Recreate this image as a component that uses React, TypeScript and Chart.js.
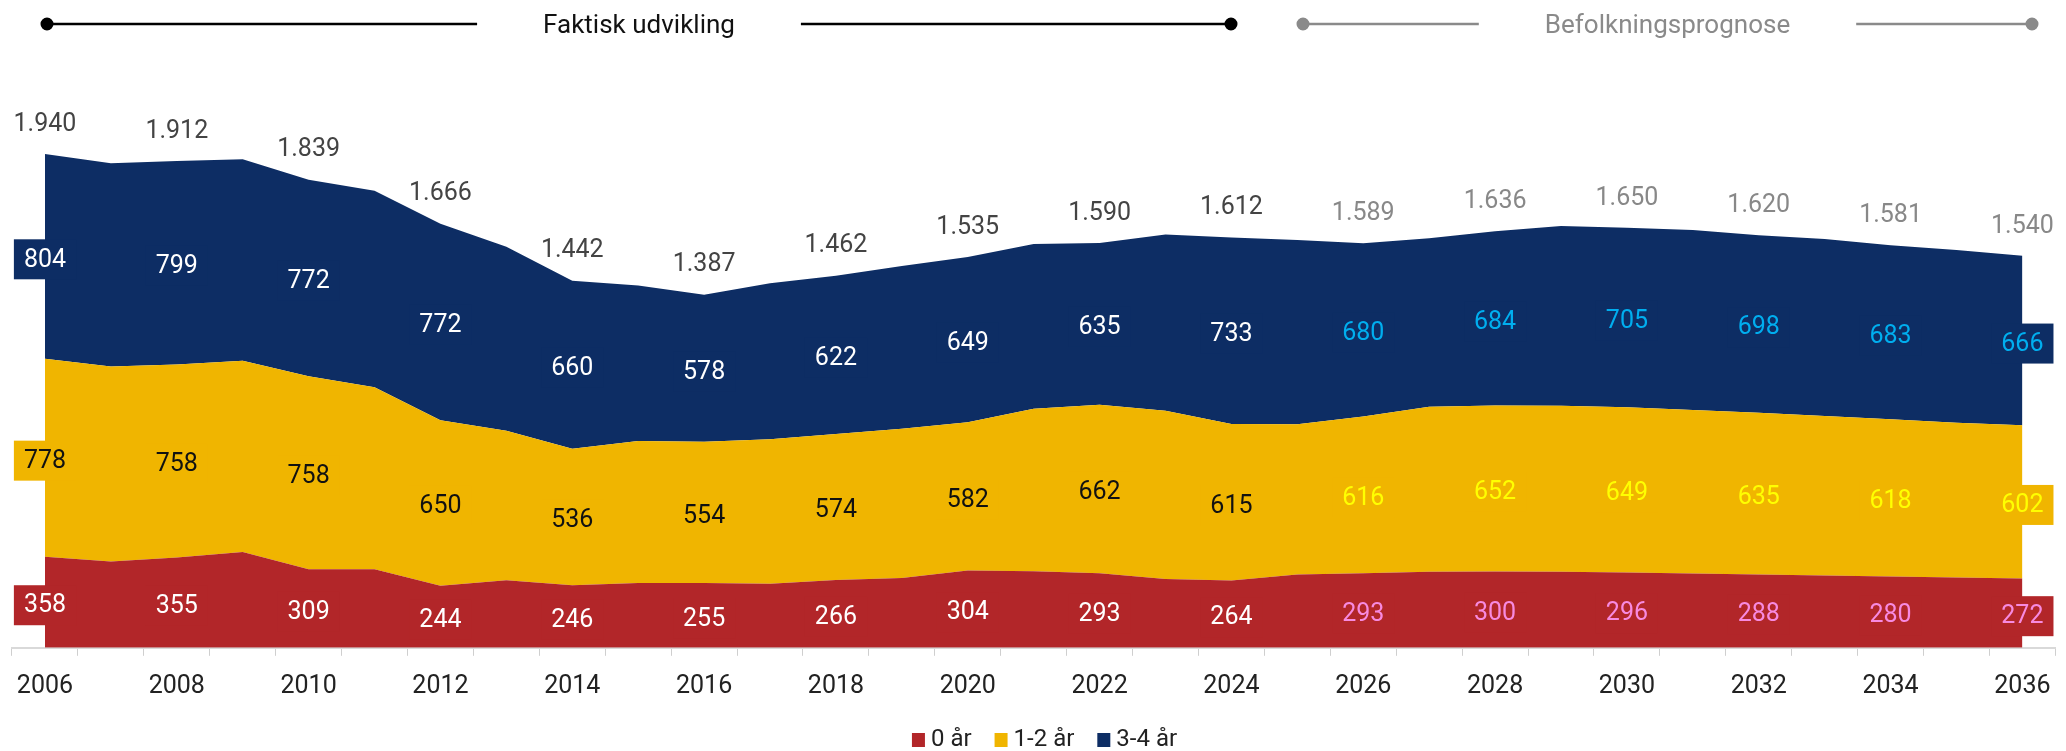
import React, { useEffect, useRef } from 'react';
import { Chart, registerables } from 'chart.js';

Chart.register(...registerables);

const years = [
  '2006', '2007', '2008', '2009', '2010', '2011', '2012', '2013', '2014', '2015', '2016',
  '2017', '2018', '2019', '2020', '2021', '2022', '2023', '2024', '2025', '2026', '2027',
  '2028', '2029', '2030', '2031', '2032', '2033', '2034', '2035', '2036',
];
const age0 = [358, 339, 355, 376, 309, 309, 244, 265, 246, 255, 255, 252, 266, 274, 304, 301, 293, 270, 264, 288, 293, 299, 300, 299, 296, 292, 288, 284, 280, 276, 272];
const age12 = [778, 766, 758, 752, 758, 715, 650, 588, 536, 557, 554, 567, 574, 587, 582, 638, 662, 661, 615, 590, 616, 648, 652, 652, 649, 642, 635, 627, 618, 608, 602];
const age34 = [804, 799, 799, 791, 772, 772, 772, 723, 660, 611, 578, 613, 622, 639, 649, 647, 635, 693, 733, 724, 680, 662, 684, 706, 705, 707, 698, 695, 683, 679, 666];
// Totals as printed above the stack (even years; source totals are from unrounded figures)
const totalLabels = [1940, 1912, 1839, 1666, 1442, 1387, 1462, 1535, 1590, 1612, 1589, 1636, 1650, 1620, 1581, 1540];

const seriesNames = ['0 år', '1-2 år', '3-4 år'];
const seriesColors = ['#B22629', '#F0B500', '#0D2D64'];
const actualLabelColors = ['#FFFFFF', '#111111', '#FFFFFF'];
const forecastLabelColors = ['#F78AE0', '#FFFF00', '#00AEEF'];
const lastActualYear = 2024;
const headerActual = 'Faktisk udvikling';
const headerForecast = 'Befolkningsprognose';

const FONT = 'Roboto, "Noto Sans", sans-serif';

const fmtTotal = (v: number) =>
  v >= 1000 ? Math.floor(v / 1000) + '.' + String(v % 1000).padStart(3, '0') : String(v);

const labelPlugin = {
  id: 'valueLabels',
  afterDatasetsDraw(chart: any) {
    const ctx = chart.ctx;
    const yScale = chart.scales.y;
    ctx.save();
    ctx.font = `25px ${FONT}`;
    ctx.textAlign = 'center';
    ctx.textBaseline = 'middle';
    for (let i = 0; i < years.length; i += 2) {
      const forecast = Number(years[i]) > lastActualYear;
      let basePix = yScale.getPixelForValue(0);
      let x = 0;
      for (let d = 0; d < chart.data.datasets.length; d++) {
        const pt = chart.getDatasetMeta(d).data[i];
        const v = chart.data.datasets[d].data[i] as number;
        x = pt.x;
        const cy = (pt.y + basePix) / 2 + 3;
        const txt = String(v);
        const w = ctx.measureText(txt).width + 20;
        ctx.fillStyle = seriesColors[d];
        ctx.fillRect(pt.x - w / 2, cy - 20, w, 40);
        ctx.fillStyle = forecast ? forecastLabelColors[d] : actualLabelColors[d];
        ctx.fillText(txt, pt.x, cy + 1);
        basePix = pt.y;
      }
      ctx.fillStyle = forecast ? '#888888' : '#444444';
      ctx.fillText(fmtTotal(totalLabels[i / 2]), x, basePix - 29.5);
    }
    ctx.restore();
  },
};

const decorPlugin = {
  id: 'decor',
  afterDraw(chart: any) {
    const ctx = chart.ctx;
    ctx.save();
    const drawHeader = (x0: number, x1: number, text: string, color: string) => {
      const y = 24;
      ctx.font = `26px ${FONT}`;
      const tw = ctx.measureText(text).width;
      const cx = (x0 + x1) / 2;
      const gap = 66;
      ctx.strokeStyle = color;
      ctx.fillStyle = color;
      ctx.lineWidth = 2.5;
      ctx.beginPath();
      ctx.moveTo(x0, y);
      ctx.lineTo(cx - tw / 2 - gap, y);
      ctx.moveTo(cx + tw / 2 + gap, y);
      ctx.lineTo(x1, y);
      ctx.stroke();
      ctx.beginPath();
      ctx.arc(x0, y, 6.5, 0, Math.PI * 2);
      ctx.arc(x1, y, 6.5, 0, Math.PI * 2);
      ctx.fill();
      ctx.textAlign = 'center';
      ctx.textBaseline = 'middle';
      ctx.fillStyle = color === '#000000' ? '#111111' : color;
      ctx.fillText(text, cx, y + 2.5);
    };
    drawHeader(47, 1231, headerActual, '#000000');
    drawHeader(1303, 2032, headerForecast, '#8A8A8A');

    ctx.font = `24px ${FONT}`;
    ctx.textBaseline = 'middle';
    ctx.textAlign = 'left';
    const sq = 13;
    const widths = seriesNames.map((s) => ctx.measureText(s).width);
    let totalW = 0;
    widths.forEach((w, i) => {
      totalW += sq + 6 + w + (i < widths.length - 1 ? 23 : 0);
    });
    let lx = 1044.5 - totalW / 2;
    const ly = 740;
    seriesNames.forEach((s, i) => {
      ctx.fillStyle = seriesColors[i];
      ctx.fillRect(lx, ly - 7, sq, 14);
      ctx.fillStyle = '#222222';
      ctx.fillText(s, lx + sq + 6, ly);
      lx += sq + 6 + widths[i] + 23;
    });
    ctx.restore();
  },
};

export default function App() {
  const ref = useRef<HTMLCanvasElement | null>(null);
  useEffect(() => {
    if (!ref.current) return;
    const series = [age0, age12, age34];
    const chart = new Chart(ref.current, {
      type: 'line',
      data: {
        labels: years,
        datasets: series.map((data, d) => ({
          label: seriesNames[d],
          data,
          backgroundColor: seriesColors[d],
          borderColor: seriesColors[d],
          borderWidth: 0,
          pointRadius: 0,
          pointHoverRadius: 0,
          tension: 0,
          fill: d === 0 ? 'origin' : '-1',
        })),
      },
      options: {
        animation: false,
        responsive: true,
        maintainAspectRatio: false,
        devicePixelRatio: 1,
        layout: { padding: { left: 12, right: 0, top: 138.7, bottom: 0 } },
        plugins: {
          legend: { display: false },
          tooltip: { enabled: false },
        },
        scales: {
          x: {
            offset: true,
            grid: {
              display: true,
              offset: true,
              drawOnChartArea: false,
              drawTicks: true,
              tickLength: 8,
              color: '#cfcfcf',
              lineWidth: 1,
            },
            border: { display: true, color: '#d9d9d9', width: 2 },
            ticks: {
              autoSkip: false,
              maxRotation: 0,
              minRotation: 0,
              padding: 15.5,
              color: '#222222',
              font: { family: FONT, size: 25 },
              callback: (_v: any, i: number) => (i % 2 === 0 ? years[i] : ''),
            },
            afterFit: (s: any) => {
              s.height = 103.2;
            },
          },
          y: {
            display: false,
            stacked: true,
            min: 0,
            max: 2000,
          },
        },
      },
      plugins: [labelPlugin, decorPlugin],
    });
    return () => chart.destroy();
  }, []);
  return (
    <div style={{ position: 'fixed', left: 0, top: 0, width: 2066, height: 751, overflow: 'hidden', background: '#fff' }}>
      <canvas ref={ref} />
    </div>
  );
}
